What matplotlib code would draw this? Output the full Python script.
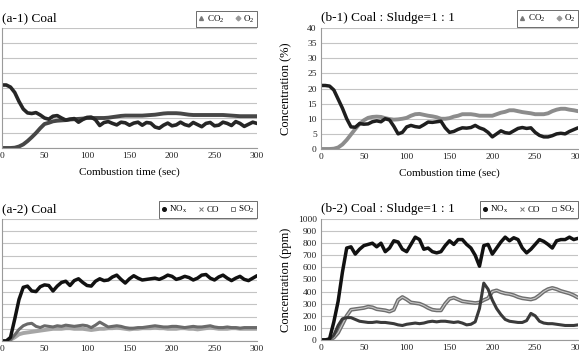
import matplotlib

matplotlib.use("Agg")
import matplotlib.pyplot as plt
from matplotlib.lines import Line2D

plt.rcParams["font.family"] = ["Liberation Serif", "DejaVu Serif"]
plt.rcParams["mathtext.fontset"] = "custom"
plt.rcParams["mathtext.rm"] = "Liberation Serif"
plt.rcParams["mathtext.it"] = "Liberation Serif:italic"

# combustion time axis, 5 s steps
time_s = list(range(0, 301, 5))

# (a-1) Coal, %
co2_coal = [0, 0, 0, 0.1, 0.5, 1.2, 2.3, 3.6, 5.0, 6.6, 8.0, 8.4, 8.9, 9.1, 9.2, 9.3,
            9.5, 9.6, 9.7, 9.8, 10.0, 10.0, 10.0, 10.0, 10.0, 10.1, 10.3, 10.5, 10.7, 10.8,
            10.8, 10.8, 10.8, 10.8, 10.9, 11.0, 11.1, 11.3, 11.5, 11.6, 11.6, 11.6, 11.5,
            11.3, 11.1, 11.0, 11.0, 11.0, 11.0, 11.0, 11.0, 11.0, 11.0, 10.9, 10.8, 10.7,
            10.6, 10.6, 10.6, 10.6, 10.6]
o2_coal = [21, 21, 20.3, 18.5, 15.5, 13.0, 11.7, 11.5, 11.8, 11.0, 10.0, 9.6, 10.6, 10.8,
           10.0, 9.3, 9.6, 9.8, 8.6, 9.5, 10.2, 10.3, 9.4, 7.5, 8.5, 8.8, 8.2, 7.7, 8.6,
           8.4, 7.6, 8.3, 8.6, 7.6, 8.5, 8.3, 7.0, 6.6, 7.6, 8.3, 7.4, 7.7, 8.6, 7.8, 7.4,
           8.5, 7.8, 7.1, 8.2, 8.5, 7.4, 7.6, 8.6, 8.2, 7.5, 8.8, 8.2, 7.2, 7.9, 8.6, 8.2]

# (b-1) Coal : Sludge = 1 : 1, %
co2_mix = [0, 0, 0, 0.1, 0.5, 1.5, 3.0, 4.8, 6.6, 8.3, 9.5, 10.3, 10.6, 10.7, 10.6, 10.2,
           9.9, 9.7, 9.8, 10.0, 10.3, 11.0, 11.5, 11.6, 11.3, 11.0, 10.8, 10.5, 10.0, 10.0,
           10.2, 10.7, 11.0, 11.5, 11.5, 11.5, 11.3, 11.0, 11.0, 11.0, 11.0, 11.5, 12.0,
           12.3, 12.8, 12.8, 12.5, 12.2, 12.0, 11.8, 11.5, 11.5, 11.5, 11.8, 12.5, 13.0,
           13.3, 13.3, 13.0, 12.8, 12.5]
o2_mix = [21, 21, 20.8, 19.5, 16.5, 13.5, 10.0, 7.3, 7.2, 8.4, 8.2, 8.3, 9.0, 9.3, 9.0,
          10.0, 9.6, 7.5, 5.0, 5.5, 7.3, 7.8, 7.4, 7.2, 8.0, 8.9, 8.8, 9.0, 9.2, 7.0, 5.5,
          5.8, 6.5, 7.0, 6.9, 7.1, 7.8, 7.0, 6.5, 5.5, 4.0, 5.0, 6.0, 5.4, 5.2, 6.0, 6.8,
          7.1, 6.8, 7.0, 5.5, 4.5, 4.0, 4.0, 4.4, 5.0, 5.2, 5.0, 5.8, 6.4, 7.0]

# (a-2) Coal, ppm
nox_coal = [0, 0, 30, 180, 340, 440, 450, 410, 405, 445, 460, 455, 410, 450, 480, 490,
            455, 495, 510, 480, 455, 450, 490, 510, 495, 500, 525, 540, 505, 475, 510, 535,
            515, 500, 505, 510, 515, 505, 520, 540, 530, 505, 515, 530, 520, 500, 515, 540,
            545, 515, 500, 525, 540, 515, 495, 515, 530, 505, 495, 515, 535]
co_coal = [0, 0, 10, 50, 95, 125, 140, 145, 120, 110, 125, 120, 115, 125, 120, 130, 125,
           120, 125, 130, 125, 110, 130, 155, 135, 115, 120, 125, 120, 110, 105, 105, 110,
           110, 115, 120, 125, 120, 115, 115, 120, 120, 115, 110, 115, 120, 115, 115, 120,
           125, 115, 110, 110, 115, 110, 110, 105, 110, 110, 110, 110]
so2_coal = [0, 0, 10, 30, 55, 65, 70, 75, 80, 85, 90, 95, 100, 100, 100, 105, 105, 100,
            100, 100, 95, 90, 95, 100, 100, 105, 105, 110, 105, 100, 95, 100, 100, 105, 105,
            105, 110, 105, 105, 100, 100, 100, 105, 105, 100, 100, 95, 100, 105, 110, 105,
            100, 100, 100, 105, 105, 100, 100, 100, 100, 100]

# (b-2) Coal : Sludge = 1 : 1, ppm
nox_mix = [0, 0, 10, 150, 320, 560, 760, 770, 710, 750, 780, 790, 800, 770, 800, 730,
           760, 820, 810, 750, 730, 790, 850, 830, 750, 760, 730, 720, 730, 780, 820, 790,
           830, 830, 790, 760, 700, 610, 780, 790, 710, 760, 810, 850, 820, 845, 830, 760,
           720, 750, 790, 830, 815, 790, 760, 820, 830, 830, 850, 830, 840]
co_mix = [0, 0, 5, 40, 120, 175, 185, 185, 170, 155, 150, 145, 145, 150, 145, 145, 140,
          135, 125, 120, 130, 135, 140, 135, 140, 150, 155, 150, 155, 155, 150, 145, 150,
          140, 125, 130, 150, 260, 470, 420, 330, 260, 210, 170, 155, 150, 145, 145, 160,
          220, 200, 155, 140, 135, 135, 130, 125, 120, 120, 120, 125]
so2_mix = [0, 0, 0, 20, 60, 130, 200, 250, 255, 260, 265, 275, 270, 255, 250, 245, 235,
           250, 330, 355, 335, 310, 305, 300, 285, 265, 250, 245, 245, 300, 340, 350, 335,
           320, 315, 310, 305, 310, 330, 345, 400, 410, 395, 385, 380, 370, 355, 345, 340,
           335, 345, 370, 400, 420, 430, 420, 405, 395, 385, 370, 350]

W, H = 579, 363


def place(x0, x1, ytop, ybot):
    return [x0 / W, 1 - ybot / H, (x1 - x0) / W, (ybot - ytop) / H]


def style(ax, ymax, ystep):
    ax.set_xlim(0, 300)
    ax.set_ylim(0, ymax)
    ax.set_xticks(range(0, 301, 50))
    ax.set_yticks(range(0, ymax + 1, ystep))
    ax.grid(axis="y", color="#c4c4c4", lw=0.8)
    ax.set_axisbelow(True)
    for s in ("top", "right"):
        ax.spines[s].set_visible(False)
    for s in ("left", "bottom"):
        ax.spines[s].set_color("#9a9a9a")
        ax.spines[s].set_linewidth(0.8)
    ax.tick_params(length=0, labelsize=6.8, pad=3, colors="#222222")


def legend(ax, handles, labels):
    lg = ax.legend(handles, labels, loc="upper right", bbox_to_anchor=(1.0, 1.145),
                   ncol=len(labels), fontsize=6.5, frameon=True, fancybox=False,
                   edgecolor="#555555", framealpha=1, borderpad=0.3, handlelength=0.6,
                   handletextpad=0.3, columnspacing=1.2, borderaxespad=0)
    lg.get_frame().set_linewidth(0.6)


fig = plt.figure(figsize=(W / 100, H / 100), dpi=100)
ax_a1 = fig.add_axes(place(2, 257, 28, 148))
ax_b1 = fig.add_axes(place(321, 578, 28, 149))
ax_a2 = fig.add_axes(place(2, 257, 219, 341))
ax_b2 = fig.add_axes(place(321, 578, 219, 340))

gas_handles = [Line2D([], [], marker="^", ls="none", color="#777777", ms=2.8),
               Line2D([], [], marker="D", ls="none", color="#999999", ms=2.4)]
gas_labels = ["CO$_2$", "O$_2$"]
ppm_handles = [Line2D([], [], marker="o", ls="none", color="#111111", ms=2.6),
               Line2D([], [], marker="x", ls="none", color="#777777", ms=3, mew=0.7),
               Line2D([], [], marker="s", ls="none", mfc="white", mec="#777777", ms=3,
                      mew=0.7)]
ppm_labels = ["NO$_{\\rm x}$", "CO", "SO$_2$"]

# (a-1)
style(ax_a1, 40, 5)
ax_a1.plot(time_s, co2_coal, color="#474747", lw=2.8, solid_capstyle="round")
ax_a1.plot(time_s, o2_coal, color="#262626", lw=2.6, solid_capstyle="round")
ax_a1.set_title("(a-1) Coal", loc="left", fontsize=9.5, pad=5)
ax_a1.set_xlabel("Combustion time (sec)", fontsize=8, labelpad=5)
legend(ax_a1, gas_handles, gas_labels)

# (b-1)
style(ax_b1, 40, 5)
ax_b1.plot(time_s, co2_mix, color="#8c8c8c", lw=2.8, solid_capstyle="round")
ax_b1.plot(time_s, o2_mix, color="#1e1e1e", lw=2.5, solid_capstyle="round")
ax_b1.set_title("(b-1) Coal : Sludge=1 : 1", loc="left", fontsize=9.5, pad=5)
ax_b1.set_xlabel("Combustion time (sec)", fontsize=8, labelpad=5)
ax_b1.set_ylabel("Concentration (%)", fontsize=9)
ax_b1.yaxis.set_label_coords(-29 / 257, 0.5)
legend(ax_b1, gas_handles, gas_labels)

# (a-2)
style(ax_a2, 1000, 100)
ax_a2.plot(time_s, so2_coal, color="#a6a6a6", lw=2.8, solid_capstyle="round")
ax_a2.plot(time_s, co_coal, color="#6a6a6a", lw=2.2, solid_capstyle="round")
ax_a2.plot(time_s, nox_coal, color="#111111", lw=2.5, solid_capstyle="round")
ax_a2.set_title("(a-2) Coal", loc="left", fontsize=9.5, pad=5)
legend(ax_a2, ppm_handles, ppm_labels)

# (b-2)
style(ax_b2, 1000, 100)
ax_b2.plot(time_s, so2_mix, color="#6e6e6e", lw=2.8, solid_capstyle="round")
ax_b2.plot(time_s, so2_mix, color="#c8c8c8", lw=0.8)
ax_b2.plot(time_s, co_mix, color="#3a3a3a", lw=2.2, solid_capstyle="round")
ax_b2.plot(time_s, nox_mix, color="#111111", lw=2.5, solid_capstyle="round")
ax_b2.set_title("(b-2) Coal : Sludge=1 : 1", loc="left", fontsize=9.5, pad=5)
ax_b2.set_ylabel("Concentration (ppm)", fontsize=9)
ax_b2.yaxis.set_label_coords(-29 / 257, 0.5)
legend(ax_b2, ppm_handles, ppm_labels)

fig.savefig("out.png", dpi=100)
plt.close(fig)
